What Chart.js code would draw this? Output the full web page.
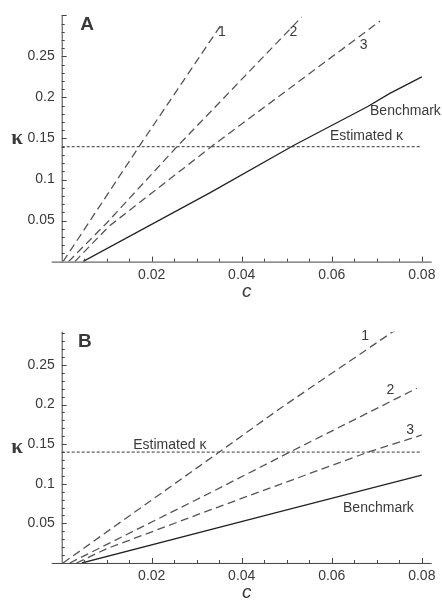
<!DOCTYPE html>
<html>
<head>
<meta charset="utf-8">
<script src="https://cdn.jsdelivr.net/npm/chart.js@4"></script>
<style>
  body { margin: 0; background: #fff; }
  .panel { position: absolute; left: 0; width: 442px; height: 300px; }
</style>
</head>
<body>
<div class="panel" style="top:0"><canvas id="chartA" width="442" height="300"></canvas></div>
<div class="panel" style="top:300px"><canvas id="chartB" width="442" height="300"></canvas></div>
<script>
// tick labels (both panels)
const xTicks = [0.02, 0.04, 0.06, 0.08];
const xTickLabels = ['0.02', '0.04', '0.06', '0.08'];
const yTicks = [0.05, 0.1, 0.15, 0.2, 0.25];
const yTickLabels = ['0.05', '0.1', '0.15', '0.2', '0.25'];

const estimatedKappa = 0.14;
const estimatedC = [0, 0.08];

// panel A
const a1C = [0.0003, 0.0174, 0.0356];
const a1K = [0, 0.142, 0.29];
const a2C = [0.0015, 0.0100, 0.0256, 0.0533];
const a2K = [0, 0.047, 0.140, 0.298];
const a3C = [0.0029, 0.0105, 0.0337, 0.0707];
const a3K = [0, 0.043, 0.142, 0.293];
const aBenchC = [0.0047, 0.033, 0.0515, 0.068, 0.0729, 0.08];
const aBenchK = [0, 0.084, 0.1415, 0.189, 0.205, 0.225];

// panel B
const b1C = [0.0003, 0.0345, 0.0485, 0.0741];
const b1K = [0, 0.138, 0.195, 0.294];
const b2C = [0.0018, 0.033, 0.050, 0.0789];
const b2K = [0, 0.0886, 0.138, 0.2206];
const b3C = [0.0033, 0.010, 0.033, 0.0681, 0.080];
const b3K = [0, 0.018, 0.067, 0.140, 0.1616];
const bBenchC = [0.0045, 0.0485, 0.080];
const bBenchK = [0, 0.0648, 0.111];

const textColor = '#3a3a3a';
const fontFamily = '"Liberation Sans", Arial, sans-serif';

function pts(xs, ys) {
  return xs.map((x, i) => ({ x: x, y: ys[i] }));
}

function dashed(xs, ys) {
  return { data: pts(xs, ys), borderColor: '#555', borderWidth: 1.3, borderDash: [8, 4.5] };
}

// axes, inward tick marks and text drawn on top of the chart
const decorPlugin = {
  id: 'decor',
  afterDraw(chart) {
    const ctx = chart.ctx;
    const x = chart.scales.x, y = chart.scales.y;
    const deco = chart.options.plugins.decor;
    const x0 = x.getPixelForValue(0), y0 = y.getPixelForValue(0);
    ctx.save();
    ctx.strokeStyle = '#444';
    ctx.lineWidth = 1;
    ctx.beginPath();
    ctx.moveTo(x0 - 10, y0 + 0.5);
    ctx.lineTo(x.right, y0 + 0.5);
    ctx.moveTo(x0 + 0.5, y0);
    ctx.lineTo(x0 + 0.5, y.top);
    // x ticks every 0.005, major at 0.02
    for (let i = 1; i * 0.005 <= x.max + 1e-9; i++) {
      const px = Math.round(x.getPixelForValue(i * 0.005)) + 0.5;
      const len = i % 4 === 0 ? 5 : 3;
      ctx.moveTo(px, y0);
      ctx.lineTo(px, y0 - len);
    }
    // y ticks every 0.01, major at 0.05
    for (let i = 1; i * 0.01 <= y.max + 1e-9; i++) {
      const py = Math.round(y.getPixelForValue(i * 0.01)) + 0.5;
      const len = i % 5 === 0 ? 5 : 3;
      ctx.moveTo(x0, py);
      ctx.lineTo(x0 + len, py);
    }
    ctx.stroke();

    ctx.fillStyle = textColor;
    ctx.textBaseline = 'middle';
    // axis titles
    ctx.textAlign = 'center';
    ctx.font = 'bold 21px "Liberation Serif", serif';
    ctx.fillText('κ', 17, (y.top + y.bottom) / 2);
    ctx.font = 'italic 19px ' + fontFamily;
    ctx.fillText('c', (x0 + x.right) / 2, y.bottom + 30);
    // panel letter
    ctx.textAlign = 'left';
    ctx.font = 'bold 19px ' + fontFamily;
    ctx.fillText(deco.letter[0], x.getPixelForValue(deco.letter[1]), y.getPixelForValue(deco.letter[2]));
    // annotations
    ctx.font = '14px ' + fontFamily;
    deco.notes.forEach(n => {
      ctx.textAlign = n[3] || 'left';
      ctx.fillText(n[0], x.getPixelForValue(n[1]), y.getPixelForValue(n[2]));
    });
    ctx.restore();
  }
};

function makePanel(id, yMax, topPad, series, deco) {
  const datasets = series.map(s => Object.assign({
    showLine: true, pointRadius: 0, fill: false, tension: 0
  }, s));
  return new Chart(document.getElementById(id), {
    type: 'scatter',
    data: { datasets: datasets },
    options: {
      responsive: false,
      animation: false,
      layout: { padding: { top: topPad, right: 10.3, left: 0, bottom: 0 } },
      plugins: { legend: { display: false }, tooltip: { enabled: false }, decor: deco },
      scales: {
        x: {
          type: 'linear', min: 0, max: 0.0822,
          grid: { display: false, drawTicks: false },
          border: { display: false },
          ticks: {
            padding: 5, color: textColor, font: { family: fontFamily, size: 14 },
            callback: v => xTickLabels[xTicks.findIndex(t => Math.abs(t - v) < 1e-6)] || ''
          },
          afterBuildTicks: s => { s.ticks = xTicks.map(v => ({ value: v })); },
          afterFit: s => { s.height = 300 - topPad - (yMax * (deco.pxPerUnit)); }
        },
        y: {
          type: 'linear', min: 0, max: yMax,
          grid: { display: false, drawTicks: false },
          border: { display: false },
          ticks: {
            padding: 7, color: textColor, font: { family: fontFamily, size: 14 },
            callback: v => yTickLabels[yTicks.findIndex(t => Math.abs(t - v) < 1e-6)] || ''
          },
          afterBuildTicks: s => { s.ticks = yTicks.map(v => ({ value: v })); },
          afterFit: s => { s.width = 61.7; }
        }
      }
    },
    plugins: [decorPlugin]
  });
}

const benchStyle = { borderColor: '#222', borderWidth: 1.3 };
const estStyle = { borderColor: '#333', borderWidth: 1, borderDash: [3, 2] };

makePanel('chartA', 0.30, 15, [
  dashed(a1C, a1K),
  dashed(a2C, a2K),
  dashed(a3C, a3K),
  Object.assign({ data: pts(aBenchC, aBenchK) }, benchStyle),
  Object.assign({ data: pts(estimatedC, [estimatedKappa, estimatedKappa]) }, estStyle)
], {
  pxPerUnit: 822,
  letter: ['A', 0.0041, 0.288],
  notes: [
    ['1', 0.0356, 0.279, 'center'],
    ['2', 0.0515, 0.279, 'center'],
    ['3', 0.0671, 0.264, 'center'],
    ['Benchmark', 0.0685, 0.183],
    ['Estimated κ', 0.0596, 0.1524]
  ]
});

makePanel('chartB', 0.292, 31.7, [
  dashed(b1C, b1K),
  dashed(b2C, b2K),
  dashed(b3C, b3K),
  Object.assign({ data: pts(bBenchC, bBenchK) }, benchStyle),
  Object.assign({ data: pts(estimatedC, [estimatedKappa, estimatedKappa]) }, estStyle)
], {
  pxPerUnit: 792,
  letter: ['B', 0.0036, 0.279],
  notes: [
    ['1', 0.0674, 0.286, 'center'],
    ['2', 0.0730, 0.218, 'center'],
    ['3', 0.0774, 0.168, 'center'],
    ['Benchmark', 0.0625, 0.069],
    ['Estimated κ', 0.0159, 0.149]
  ]
});
</script>
</body>
</html>
